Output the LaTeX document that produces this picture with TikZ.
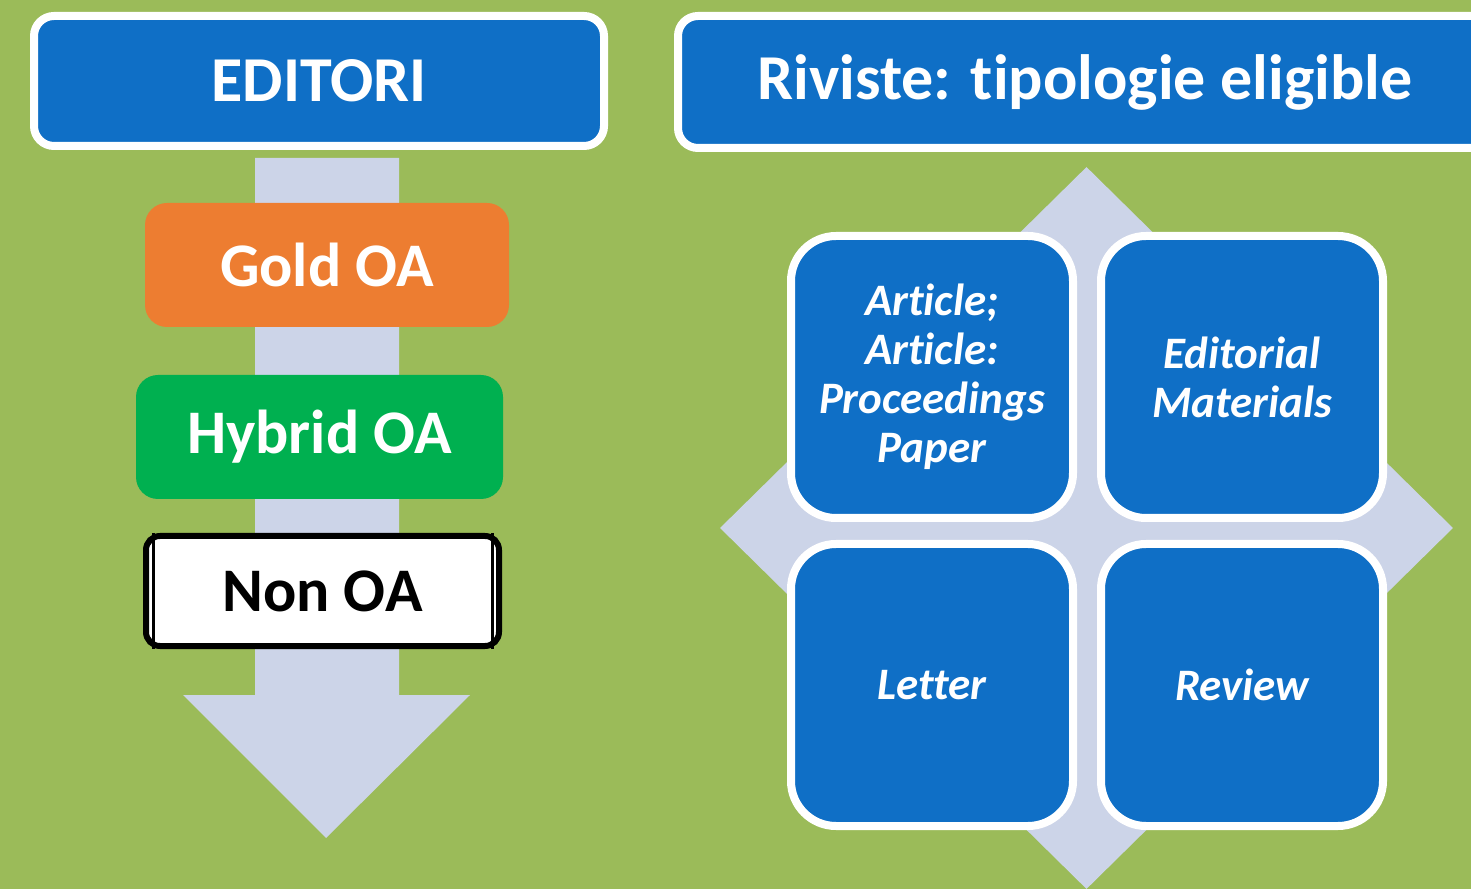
\documentclass[tikz,border=0pt]{standalone}
\usepackage{fontspec}
\setmainfont{Carlito}[RawFeature={-liga;-clig;-calt;-dlig}]
\usetikzlibrary{positioning,shapes.geometric}

\definecolor{bggreen}{HTML}{9BBB59}
\definecolor{tileblue}{HTML}{0F6FC6}
\definecolor{goldoa}{HTML}{ED7D31}
\definecolor{hybridoa}{HTML}{00B050}
\definecolor{lavender}{HTML}{CCD4E8}

\begin{document}
\begin{tikzpicture}[x=1pt, y=1pt,
    title/.style={rectangle, rounded corners=20pt, fill=tileblue, draw=white, line width=8pt,
    text=white, font=\fontsize{64}{78}\selectfont\bfseries},
    level/.style={rectangle, rounded corners=22pt, minimum height=124pt,
    text=white, font=\fontsize{62}{76}\selectfont\bfseries},
    tile/.style={rectangle, rounded corners=45pt, fill=tileblue, draw=white, line width=8pt,
    minimum width=282pt, minimum height=282pt, text=white, align=center,
    font=\fontsize{45}{49}\selectfont\bfseries\itshape}]
    \clip (0,0) rectangle (1471,889);
    \fill[bggreen] (0,0) rectangle (1471,889);

    % left column: publishers
    \fill[lavender] (255,731) -- (399,731) -- (399,194) -- (470,194) -- (326,51)
        -- (183,194) -- (255,194) -- cycle;
    \node (editori) [title, minimum width=570pt, minimum height=130pt] at (319,808) {EDITORI};
    \node (gold) [level, fill=goldoa, minimum width=364pt] at (327,624) {Gold OA};
    \node (hybrid) [level, fill=hybridoa, minimum width=367pt] at (319.5,452) {Hybrid OA};
    \node (nonoa) [rectangle, rounded corners=14pt, fill=white, draw=black, line width=6pt,
        minimum width=353pt, minimum height=110pt, text=black,
        font=\fontsize{62}{76}\selectfont\bfseries] at (322.5,298) {Non OA};
    \draw[line width=3pt] ([xshift=10pt]nonoa.north west) -- ([xshift=10pt]nonoa.south west);
    \draw[line width=3pt] ([xshift=-10pt]nonoa.north east) -- ([xshift=-10pt]nonoa.south east);

    % right column: journal types
    \node (riviste) [title, minimum width=818pt, minimum height=132pt] at (1087,807) {\hspace*{-4pt}Riviste: tipologie eligible};
    \node (backdiamond) [diamond, fill=lavender, inner sep=0pt, minimum width=733pt,
        minimum height=722pt] at (1086.5,361) {};
    \node (article) [tile] at (932,512) {Article;\\Article:\\Proceedings\\Paper};
    \node (editorial) [tile, right=20pt of article] {Editorial\\Materials};
    \node (letter) [tile, below=18pt of article] {Letter};
    \node (review) [tile, right=20pt of letter] {Review};
\end{tikzpicture}
\end{document}
